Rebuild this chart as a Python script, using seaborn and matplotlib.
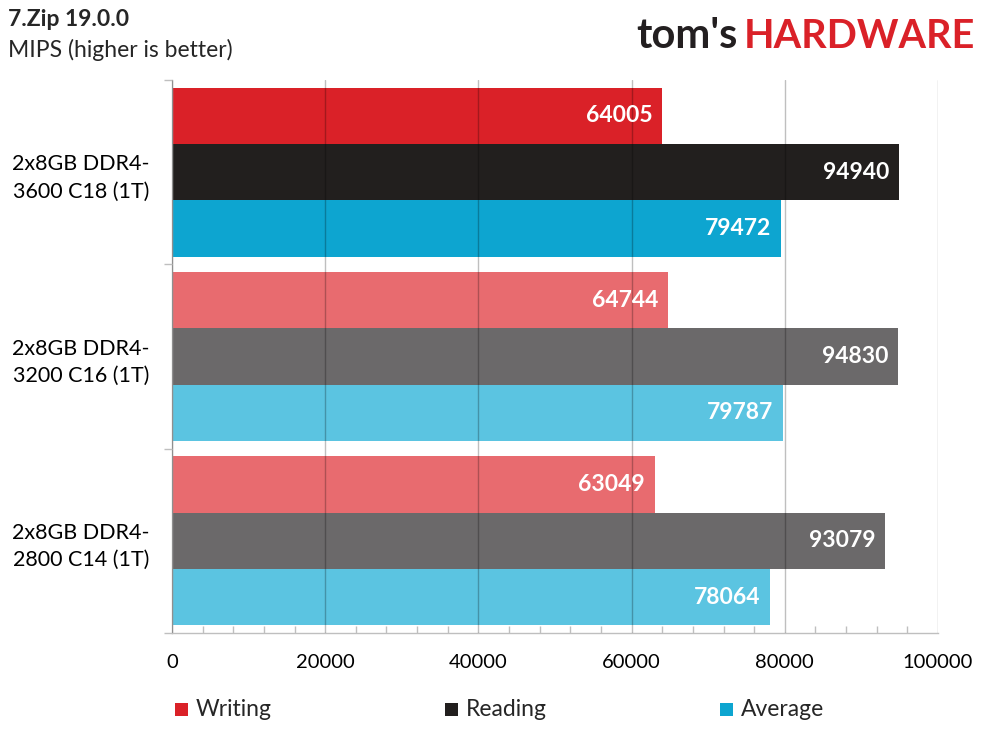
import pandas as pd
import seaborn as sns
import matplotlib.pyplot as plt
from matplotlib.patches import Rectangle
from matplotlib.ticker import MultipleLocator, FixedLocator

# values
configs = ["2x8GB DDR4-\n3600 C18 (1T)", "2x8GB DDR4-\n3200 C16 (1T)", "2x8GB DDR4-\n2800 C14 (1T)"]
tests = ["Writing", "Reading", "Average"]
writing = [64005, 64744, 63049]
reading = [94940, 94830, 93079]
average = [79472, 79787, 78064]

bright = {"Writing": "#DA2128", "Reading": "#221F1E", "Average": "#0DA5D0"}
light = {"Writing": "#E86B6F", "Reading": "#6B696A", "Average": "#5BC4E1"}

df = pd.DataFrame({
    "config": configs * 3,
    "test": [t for t in tests for _ in configs],
    "value": writing + reading + average,
})

sns.set_theme(style="white")
plt.rcParams['font.family'] = ['Lato', 'DejaVu Sans']

fig = plt.figure(figsize=(9.89, 7.42), dpi=100)
ax = fig.add_axes([172 / 989, 1 - 633 / 742, (938 - 172) / 989, (633 - 80) / 742])

sns.barplot(data=df, y="config", x="value", hue="test", hue_order=tests,
            order=configs, orient="h", width=0.916, gap=0, legend=False,
            palette=bright, saturation=1, ax=ax, errorbar=None)

for cont, t in zip(ax.containers, tests):
    for i, p in enumerate(cont.patches):
        p.set_facecolor(bright[t] if i == 0 else light[t])
        p.set_edgecolor("none")
        val = p.get_width()
        ax.text(val - 1300, p.get_y() + p.get_height() / 2, f"{int(val)}",
                ha="right", va="center", color="white", fontsize=16.5,
                fontweight="bold", zorder=5)

ax.set_xlim(0, 100000)
ax.set_ylim(2.5, -0.5)
ax.set_xlabel("")
ax.set_ylabel("")

# gridlines drawn over the bars, semi transparent
ax.set_axisbelow(False)
ax.xaxis.set_major_locator(MultipleLocator(20000))
ax.xaxis.set_minor_locator(MultipleLocator(4000))
ax.grid(axis="x", which="major", color="black", alpha=0.25, linewidth=1)
ax.tick_params(axis="x", which="major", length=0, pad=15, labelsize=14.5, labelcolor="black")
ax.tick_params(axis="x", which="minor", direction="in", length=5, width=1, color="#BFBFBF", bottom=True)

ax.yaxis.set_minor_locator(FixedLocator([-0.5, 0.5, 1.5, 2.5]))
ax.tick_params(axis="y", which="major", length=0, pad=16, labelsize=15.5, labelcolor="black")
ax.tick_params(axis="y", which="minor", direction="out", length=6, width=1, color="#BFBFBF", left=True)
for lab in ax.get_yticklabels():
    lab.set_multialignment("center")
    lab.set_linespacing(1.45)

for side in ["top", "right"]:
    ax.spines[side].set_visible(False)
for side in ["left", "bottom"]:
    ax.spines[side].set_color("#BFBFBF")
    ax.spines[side].set_linewidth(1)

# titles
fig.text(8 / 989, 1 - 20 / 742, "7.Zip 19.0.0", fontsize=16.5, fontweight="bold", va="center", ha="left")
fig.text(8 / 989, 1 - 50 / 742, "MIPS (higher is better)", fontsize=16.5, va="center", ha="left")

# logo
hw = fig.text(975 / 989, 1 - 48 / 742, "HARDWARE", fontsize=28.5, fontweight="bold",
              color="#DA2128", ha="right", va="baseline")
fig.canvas.draw()
bb = hw.get_window_extent()
fig.text((bb.x0 - 6) / 989, 1 - 48 / 742, "tom's", fontsize=30, fontweight="bold",
         color="#231F20", ha="right", va="baseline")

# legend
leg_x = [175, 445, 720]
for x, t in zip(leg_x, tests):
    fig.add_artist(Rectangle((x / 989, 1 - 716 / 742), 13 / 989, 13 / 742,
                             transform=fig.transFigure, color=bright[t], lw=0))
    fig.text((x + 21) / 989, 1 - 709 / 742, t, fontsize=16.5, va="center", ha="left")

fig.savefig("out.png", dpi=100)
